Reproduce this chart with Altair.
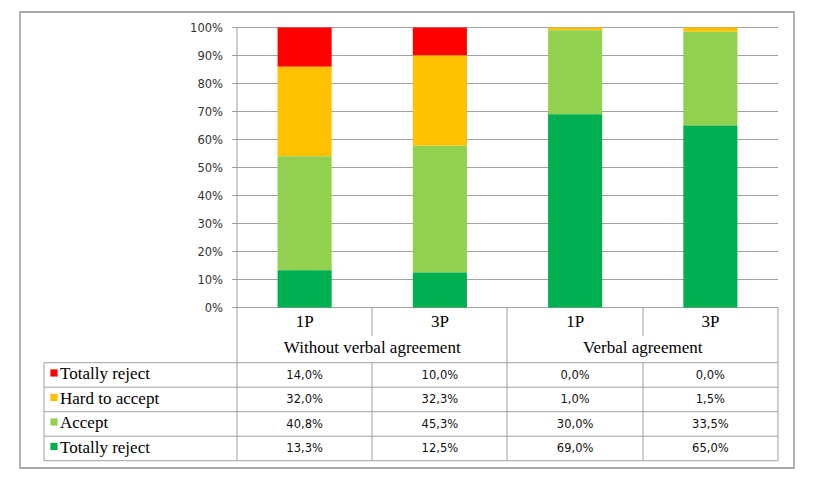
import altair as alt
import pandas as pd

# ---------------- data ----------------
categories = ["1P", "3P", "1P", "3P"]
group_names = ["Without verbal agreement", "Verbal agreement"]
series_names = ["Totally reject", "Hard to accept", "Accept", "Totally reject"]
series_colors = ["#FF0000", "#FFC000", "#92D050", "#00B050"]
totally_reject_top = [14.0, 10.0, 0.0, 0.0]
hard_to_accept = [32.0, 32.3, 1.0, 1.5]
accept = [40.8, 45.3, 30.0, 33.5]
totally_reject_bottom = [13.3, 12.5, 69.0, 65.0]
y_ticks = [0, 10, 20, 30, 40, 50, 60, 70, 80, 90, 100]

series_values = [totally_reject_top, hard_to_accept, accept, totally_reject_bottom]

# ---------------- layout (page pixels) ----------------
W, H = 801, 483            # chart drawing area (page 8..809, 8..491)
PLOT_L, PLOT_R = 237, 778
Y0, Y100 = 307.5, 27.5
COL = (PLOT_R - PLOT_L) / 4.0
CAT_ROW_BOTTOM = 336
HEAD_BOTTOM = 362.7
ROW_H = 24.5
TABLE_L = 44
BORDER = (20, 794, 12, 468)


def X(p):
    return (p - PLOT_L) / COL


def Y(p):
    return (Y0 - p) / (Y0 - Y100)


xs = alt.Scale(domain=[X(8), X(8 + W)], nice=False, zero=False)
ys = alt.Scale(domain=[Y(8 + H), Y(8)], nice=False, zero=False)

SERIF = "Liberation Serif"
SANS = "DejaVu Sans"
LINE = "#a0a0a0"

# ---------------- bars ----------------
rows = []
for k, (name, vals) in enumerate(zip(series_names, series_values)):
    for i, v in enumerate(vals):
        rows.append({"key": f"s{k}", "name": name, "value": v, "rank": 3 - k,
                     "col": i})
bars_df = pd.DataFrame(rows)

keys = [f"s{k}" for k in range(4)]
bars = alt.Chart(bars_df).mark_bar().transform_stack(
    stack="value", groupby=["col"], as_=["v0", "v1"], offset="normalize",
    sort=[alt.SortField("rank", order="ascending")],
).transform_calculate(
    xlo="datum.col + 0.3", xhi="datum.col + 0.7"
).encode(
    x=alt.X("xlo:Q", scale=xs, axis=None),
    x2="xhi:Q",
    y=alt.Y("v0:Q", scale=ys, axis=None),
    y2="v1:Q",
    color=alt.Color("key:N", scale=alt.Scale(domain=keys, range=series_colors), legend=None),
)

# ---------------- lines ----------------
segs = []
for t in y_ticks:
    segs.append((X(232), X(PLOT_R), t / 100, t / 100))
segs.append((X(PLOT_L), X(PLOT_L), Y(Y100), Y(HEAD_BOTTOM + 4 * ROW_H)))
for xp in (507, PLOT_R):
    segs.append((X(xp), X(xp), Y(Y0), Y(HEAD_BOTTOM + 4 * ROW_H)))
for xp in (372, 643):
    segs.append((X(xp), X(xp), Y(Y0), Y(CAT_ROW_BOTTOM)))
    segs.append((X(xp), X(xp), Y(HEAD_BOTTOM), Y(HEAD_BOTTOM + 4 * ROW_H)))
segs.append((X(TABLE_L), X(TABLE_L), Y(HEAD_BOTTOM), Y(HEAD_BOTTOM + 4 * ROW_H)))
for r in range(5):
    yy = Y(HEAD_BOTTOM + r * ROW_H)
    segs.append((X(TABLE_L), X(PLOT_R), yy, yy))
lines_df = pd.DataFrame(segs, columns=["x", "x2", "y", "y2"])
lines = alt.Chart(lines_df).mark_rule(color=LINE, strokeWidth=1).encode(
    x=alt.X("x:Q", scale=xs, axis=None), x2="x2:Q",
    y=alt.Y("y:Q", scale=ys, axis=None), y2="y2:Q",
)

border_df = pd.DataFrame([{"x": X(BORDER[0]), "x2": X(BORDER[1]),
                           "y": Y(BORDER[2]), "y2": Y(BORDER[3])}])
border = alt.Chart(border_df).mark_rect(fill=None, stroke="#8c8c8c", strokeWidth=1.3).encode(
    x=alt.X("x:Q", scale=xs, axis=None), x2="x2:Q",
    y=alt.Y("y:Q", scale=ys, axis=None), y2="y2:Q",
)

# ---------------- y tick labels ----------------
ticks_df = pd.DataFrame({"t": y_ticks})
ticks_df["y"] = ticks_df["t"] / 100
ticks_df["label"] = ticks_df["t"].astype(str) + "%"
ticks_df["x"] = X(223)
tick_text = alt.Chart(ticks_df).mark_text(
    align="right", baseline="middle", font=SANS, fontSize=11.5, color="#333333", dy=1
).encode(
    x=alt.X("x:Q", scale=xs, axis=None), y=alt.Y("y:Q", scale=ys, axis=None), text="label:N"
)

# ---------------- header ----------------
head_df = pd.DataFrame({"label": categories, "x": [i + 0.5 for i in range(4)]})
head_df["y"] = Y(327)
head_text = alt.Chart(head_df).mark_text(
    align="center", baseline="alphabetic", font=SERIF, fontSize=17, color="#000000"
).encode(x=alt.X("x:Q", scale=xs, axis=None), y=alt.Y("y:Q", scale=ys, axis=None), text="label:N")

grp_df = pd.DataFrame({"label": group_names, "x": [1.0, 3.0]})
grp_df["y"] = Y(353)
grp_text = alt.Chart(grp_df).mark_text(
    align="center", baseline="alphabetic", font=SERIF, fontSize=17, color="#000000"
).encode(x=alt.X("x:Q", scale=xs, axis=None), y=alt.Y("y:Q", scale=ys, axis=None), text="label:N")

# ---------------- table body ----------------
cells, legend_rows = [], []
for r, (name, vals) in enumerate(zip(series_names, series_values)):
    center = HEAD_BOTTOM + ROW_H * (r + 0.5)
    legend_rows.append({"key": f"s{r}", "name": name,
                        "sx": X(54), "sy": Y(center - 2),
                        "tx": X(60), "ty": Y(center + 4.5)})
    for i, v in enumerate(vals):
        cells.append({"label": f"{v:.1f}%".replace(".", ","), "x": i + 0.5,
                      "y": Y(center + 4)})
cells_df = pd.DataFrame(cells)
leg_df = pd.DataFrame(legend_rows)

cell_text = alt.Chart(cells_df).mark_text(
    align="center", baseline="alphabetic", font=SANS, fontSize=11.5, color="#111111"
).encode(x=alt.X("x:Q", scale=xs, axis=None), y=alt.Y("y:Q", scale=ys, axis=None), text="label:N")

leg_sq = alt.Chart(leg_df).mark_square(size=52, opacity=1).encode(
    x=alt.X("sx:Q", scale=xs, axis=None), y=alt.Y("sy:Q", scale=ys, axis=None),
    color=alt.Color("key:N", scale=alt.Scale(domain=keys, range=series_colors), legend=None),
)
leg_text = alt.Chart(leg_df).mark_text(
    align="left", baseline="alphabetic", font=SERIF, fontSize=17, color="#000000"
).encode(x=alt.X("tx:Q", scale=xs, axis=None), y=alt.Y("ty:Q", scale=ys, axis=None), text="name:N")

chart = alt.layer(
    border, lines, bars, tick_text, head_text, grp_text, cell_text, leg_sq, leg_text
).properties(
    width=W, height=H, padding=0, autosize=alt.AutoSizeParams(type="none"),
    background="white",
).configure_view(stroke=None)

chart.save("out.html", embed_options={"renderer": "svg", "actions": False})
